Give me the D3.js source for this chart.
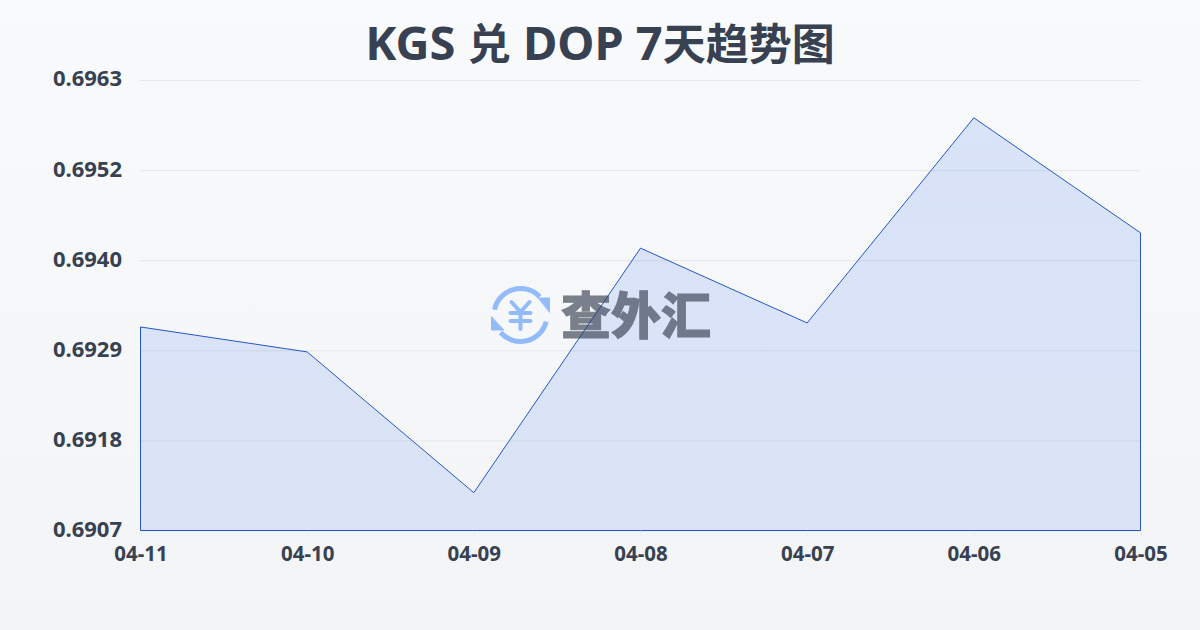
<!DOCTYPE html>
<html><head><meta charset="utf-8">
<script src="https://cdnjs.cloudflare.com/ajax/libs/d3/7.8.5/d3.min.js"></script>
<style>html,body{margin:0;padding:0;background:#f8fafc}svg{display:block}text{font-family:"Noto Sans","Noto Sans CJK SC",sans-serif}</style>
</head><body><div id="chart"></div>
<script>
const titleParts = ["KGS ","兑"," DOP 7","天趋势图"];
const watermarkText = "查外汇";
const dates = ["04-11","04-10","04-09","04-08","04-07","04-06","04-05"];
const rates = [0.69321,0.69290,0.69115,0.69419,0.69326,0.69581,0.69438];
const yTickValues = [0.69068,0.69180,0.69292,0.69404,0.69516,0.69628];
const yDomain = [0.69068,0.69628];
const W=1200,H=630,m={l:140,r:1140,t:80,b:530.5};
const svg=d3.select("#chart").append("svg").attr("width",W).attr("height",H);
const defs=svg.append("defs");
const bg=defs.append("linearGradient").attr("id","bg").attr("x1",0).attr("y1",0).attr("x2",0).attr("y2",1);
bg.append("stop").attr("offset","0%").attr("stop-color","#f9fafc");
bg.append("stop").attr("offset","100%").attr("stop-color","#f3f4f6");
const ag=defs.append("linearGradient").attr("id","ag").attr("gradientUnits","userSpaceOnUse").attr("x1",0).attr("y1",m.t).attr("x2",0).attr("y2",m.b);
ag.append("stop").attr("offset","0%").attr("stop-color","#2563eb").attr("stop-opacity",0.15);
ag.append("stop").attr("offset","100%").attr("stop-color","#2563eb").attr("stop-opacity",0.12);
svg.append("rect").attr("width",W).attr("height",H).attr("fill","url(#bg)");
const x=d3.scalePoint().domain(dates).range([m.l+0.5,m.r+0.5]);
const y=d3.scaleLinear().domain(yDomain).range([m.b,m.t]);
const gy=svg.append("g").attr("transform",`translate(${m.l},0)`).call(d3.axisLeft(y).tickValues(yTickValues).tickSize(-(m.r-m.l)).tickPadding(18).tickFormat(d3.format(".4f")));
gy.select(".domain").remove();
gy.selectAll("line").attr("stroke","#e5e7eb").attr("stroke-width",1);
gy.selectAll("text").attr("fill","#374151").attr("font-size",22).attr("font-weight",700).attr("dy","0.27em");
const gx=svg.append("g").attr("transform",`translate(0,${m.b})`).call(d3.axisBottom(x).tickSize(6).tickPadding(10));
gx.select(".domain").remove();
gx.selectAll("line").attr("stroke","#e5e7eb").attr("opacity",0.6);
gx.selectAll("text").attr("fill","#374151").attr("font-size",20.5).attr("font-weight",700);
const area=d3.area().x((d,i)=>x(dates[i])).y0(m.b).y1(d=>y(d));
svg.append("path").attr("d",area(rates)).attr("fill","url(#ag)").attr("stroke","#2456c8").attr("stroke-width",1);
const wm=svg.append("g");
const ic=wm.append("g").attr("transform","translate(520.5,315)").attr("fill","none").attr("stroke","#93bbfb").attr("stroke-linecap","round");
const arc=d3.arc().innerRadius(26.5).outerRadius(26.5);
ic.append("path").attr("d",arc({startAngle:-1.37,endAngle:0.81})).attr("stroke-width",5);
ic.append("path").attr("d",arc({startAngle:1.82,endAngle:3.99})).attr("stroke-width",5);
ic.append("path").attr("d",d3.line()([[18,-17],[29,-17],[29,-3]])+"Z").attr("fill","#93bbfb").attr("stroke-width",1).attr("stroke-linejoin","round");
ic.append("path").attr("d",d3.line()([[-29,2],[-29,15],[-17,15]])+"Z").attr("fill","#93bbfb").attr("stroke-width",1).attr("stroke-linejoin","round");
ic.append("path").attr("d","M-9,-13L0,-3L9,-13M0,-3V14M-10,-2H10M-10,6H10").attr("stroke-width",4);
wm.append("text").attr("x",636).attr("y",334).attr("text-anchor","middle").attr("font-size",50).attr("font-weight",900).attr("fill","#374151").attr("stroke","#374151").attr("stroke-width",1).attr("opacity",0.65).style("font-family",'"Noto Sans CJK SC"').text(watermarkText);
svg.append("text").attr("x",600).attr("y",60).attr("text-anchor","middle").attr("font-weight",700).attr("fill","#374151")
  .selectAll("tspan").data(titleParts).join("tspan").attr("font-size",(d,i)=>i%2?43:47).text(d=>d);
</script></body></html>
